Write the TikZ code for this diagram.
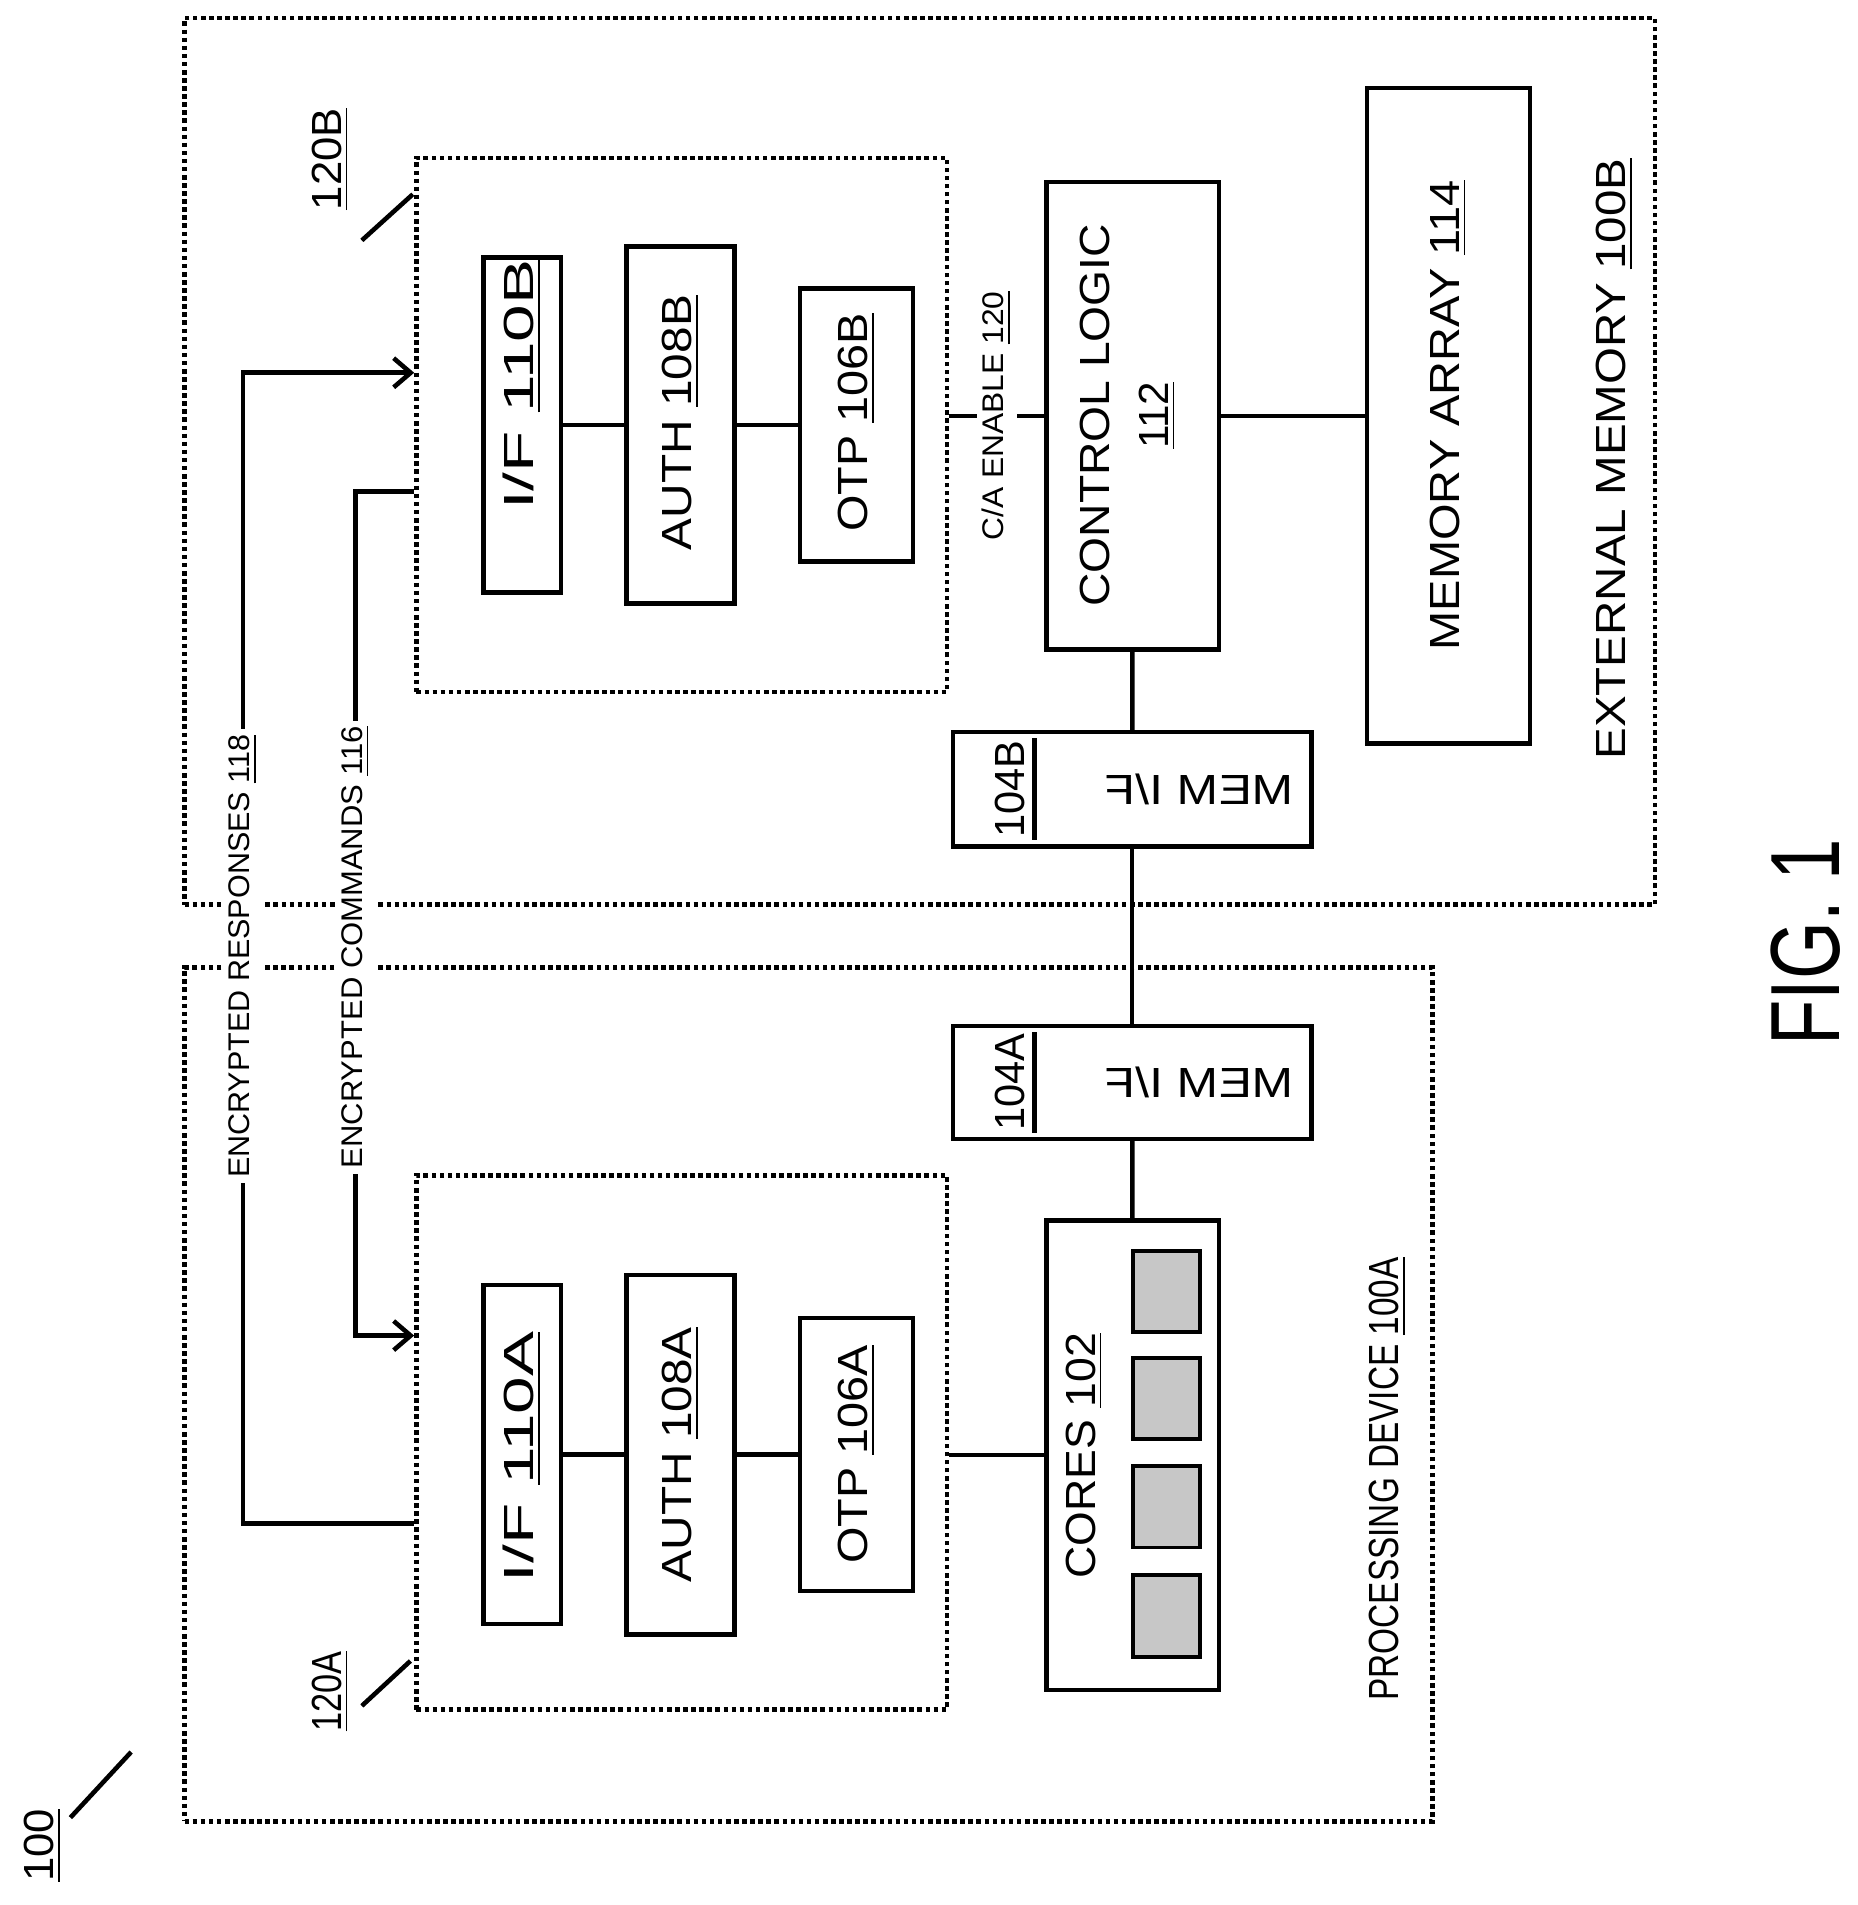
\documentclass[tikz,border=0pt]{standalone}
\usepackage{fontspec}
\setmainfont{Liberation Sans}
\usetikzlibrary{arrows.meta}
\def\U{0.01214cm}
\newlength\UL \setlength\UL{0.01214cm}
\newcommand\Tx[2]{\rotatebox{90}{\resizebox{#1\UL}{\height}{#2}}}
\begin{document}
\begin{tikzpicture}[x=0.01214cm,y=-0.01214cm,
  ln/.style={line width=1.3pt},
  box/.style={draw,line width=1.3pt,inner sep=0pt},
  dbox/.style={draw,line width=1.3pt,densely dotted,inner sep=0pt},
  sq/.style={draw,line width=1.1pt,fill=black!22,inner sep=0pt,minimum width=55*\U,minimum height=67*\U},
  txt/.style={inner sep=0pt,font=\fontsize{12}{14}\selectfont},
  small/.style={font=\fontsize{8.5}{10}\selectfont,fill=white,inner sep=1.5pt},
  arr/.style={ln,-{Straight Barb[length=14*\U,width=24*\U,line width=1.3pt]}}]
\useasboundingbox (0,0) rectangle (1530,1569);
% outer boxes
\node[dbox,minimum width=1028*\U,minimum height=703*\U] (pd) at (666,1148.5) {};
\node[dbox,minimum width=1211*\U,minimum height=730*\U] (em) at (757.5,380) {};
\node[txt] (pdl) at (1143,1218) {\Tx{365}{PROCESSING DEVICE \underline{100A}}};
\node[txt] (eml) at (1330,378) {\Tx{495}{EXTERNAL MEMORY \underline{100B}}};
% security blocks
\node[dbox,minimum width=437*\U,minimum height=440*\U] (dB) at (561.5,350) {};
\node[dbox,minimum width=437*\U,minimum height=440*\U] (dA) at (561.5,1188) {};
\node[box,minimum width=64*\U,minimum height=276*\U] (ifB) at (430,350) {};
\node[box,minimum width=89*\U,minimum height=294*\U] (auB) at (560.5,350) {};
\node[box,minimum width=93*\U,minimum height=225*\U] (otB) at (705.5,350) {};
\node[box,minimum width=64*\U,minimum height=279*\U] (ifA) at (430,1198) {};
\node[box,minimum width=89*\U,minimum height=296*\U] (auA) at (560.5,1198) {};
\node[box,minimum width=93*\U,minimum height=225*\U] (otA) at (705.5,1198) {};
\node[txt] (ifBt) at (430,317) {\Tx{206}{I/F \underline{110B}}};
\node[txt] (auBt) at (560.5,348) {\Tx{210}{AUTH \underline{108B}}};
\node[txt] (otBt) at (705.5,348) {\Tx{180}{OTP \underline{106B}}};
\node[txt] (ifAt) at (430,1200) {\Tx{206}{I/F \underline{110A}}};
\node[txt] (auAt) at (560.5,1198) {\Tx{210}{AUTH \underline{108A}}};
\node[txt] (otAt) at (705.5,1198) {\Tx{180}{OTP \underline{106A}}};
% control logic, memory array
\node[box,minimum width=142*\U,minimum height=385*\U] (ctl) at (933,342.5) {};
\node[txt] (ctlt) at (902,342) {\Tx{315}{CONTROL LOGIC}};
\node[txt] (ctln) at (953,342) {\rotatebox{90}{\underline{112}}};
\node[box,minimum width=134*\U,minimum height=540*\U] (ma) at (1193,342.5) {};
\node[txt] (mat) at (1193,342) {\Tx{387}{MEMORY ARRAY \underline{114}}};
% mem i/f
\node[box,minimum width=295*\U,minimum height=94*\U] (mB) at (932.5,650) {};
\node[box,minimum width=295*\U,minimum height=93*\U] (mA) at (932.5,891.5) {};
\draw[ln] (852,608) -- (852,692);
\draw[ln] (852,850) -- (852,933);
\node[txt] (nB) at (832,650) {\Tx{80}{104B}};
\node[txt] (nA) at (832,891.5) {\Tx{80}{104A}};
\node[txt] (tB) at (988,650) {\scalebox{-1}[1]{\resizebox{155\UL}{\height}{MEM I/F}}};
\node[txt] (tA) at (988,891.5) {\scalebox{-1}[1]{\resizebox{155\UL}{\height}{MEM I/F}}};
% cores
\node[box,minimum width=142*\U,minimum height=387*\U] (co) at (933,1198.5) {};
\node[txt] (col) at (893,1199) {\Tx{202}{CORES \underline{102}}};
\node[sq] (c1) at (960.5,1063.5) {};
\node[sq] (c2) at (960.5,1152) {};
\node[sq] (c3) at (960.5,1241) {};
\node[sq] (c4) at (960.5,1331) {};
% connections
\draw[ln] (ifB) -- (auB);
\draw[ln] (auB) -- (otB);
\draw[ln] (ifA) -- (auA);
\draw[ln] (auA) -- (otA);
\draw[ln] (dB.east |- ctl) -- node[small] {\Tx{205}{C/A ENABLE \underline{120}}} (ctl);
\draw[ln] (ctl) -- (ma);
\draw[ln] (ctl) -- (mB);
\draw[ln] (mB) -- (mA);
\draw[ln] (mA) -- (co);
\draw[ln] (dA.east |- co) -- (co);
% encrypted links
\coordinate (r1) at (200,1255);
\coordinate (r2) at (200,307);
\coordinate (k1) at (293,405);
\coordinate (k2) at (293,1100);
\draw[arr] (dA.west |- r1) -- (r1) -- node[small,pos=0.493] {\Tx{365}{ENCRYPTED RESPONSES \underline{118}}} (r2) -- (dB.west |- r2);
\draw[arr] (dB.west |- k1) -- (k1) -- node[small,pos=0.54] {\Tx{364}{ENCRYPTED COMMANDS \underline{116}}} (k2) -- (dA.west |- k2);
% reference labels
\node[txt] (l120A) at (272,1393) {\Tx{66}{\underline{120A}}};
\node[txt] (l120B) at (272,131) {\Tx{84}{\underline{120B}}};
\coordinate (a1) at (298,1405); \coordinate (a2) at (338,1368);
\draw[ln] (a1) -- (a2);
\coordinate (b1) at (298,198); \coordinate (b2) at (340,160);
\draw[ln] (b1) -- (b2);
\node[txt] (l100) at (35,1520) {\Tx{60}{\underline{100}}};
\coordinate (h1) at (58,1497); \coordinate (h2) at (108,1443);
\draw[ln] (h1) -- (h2);
\node[txt,font=\fontsize{28}{32}\selectfont] (fig) at (1487,776) {\Tx{170}{FIG. 1}};
\end{tikzpicture}
\end{document}
